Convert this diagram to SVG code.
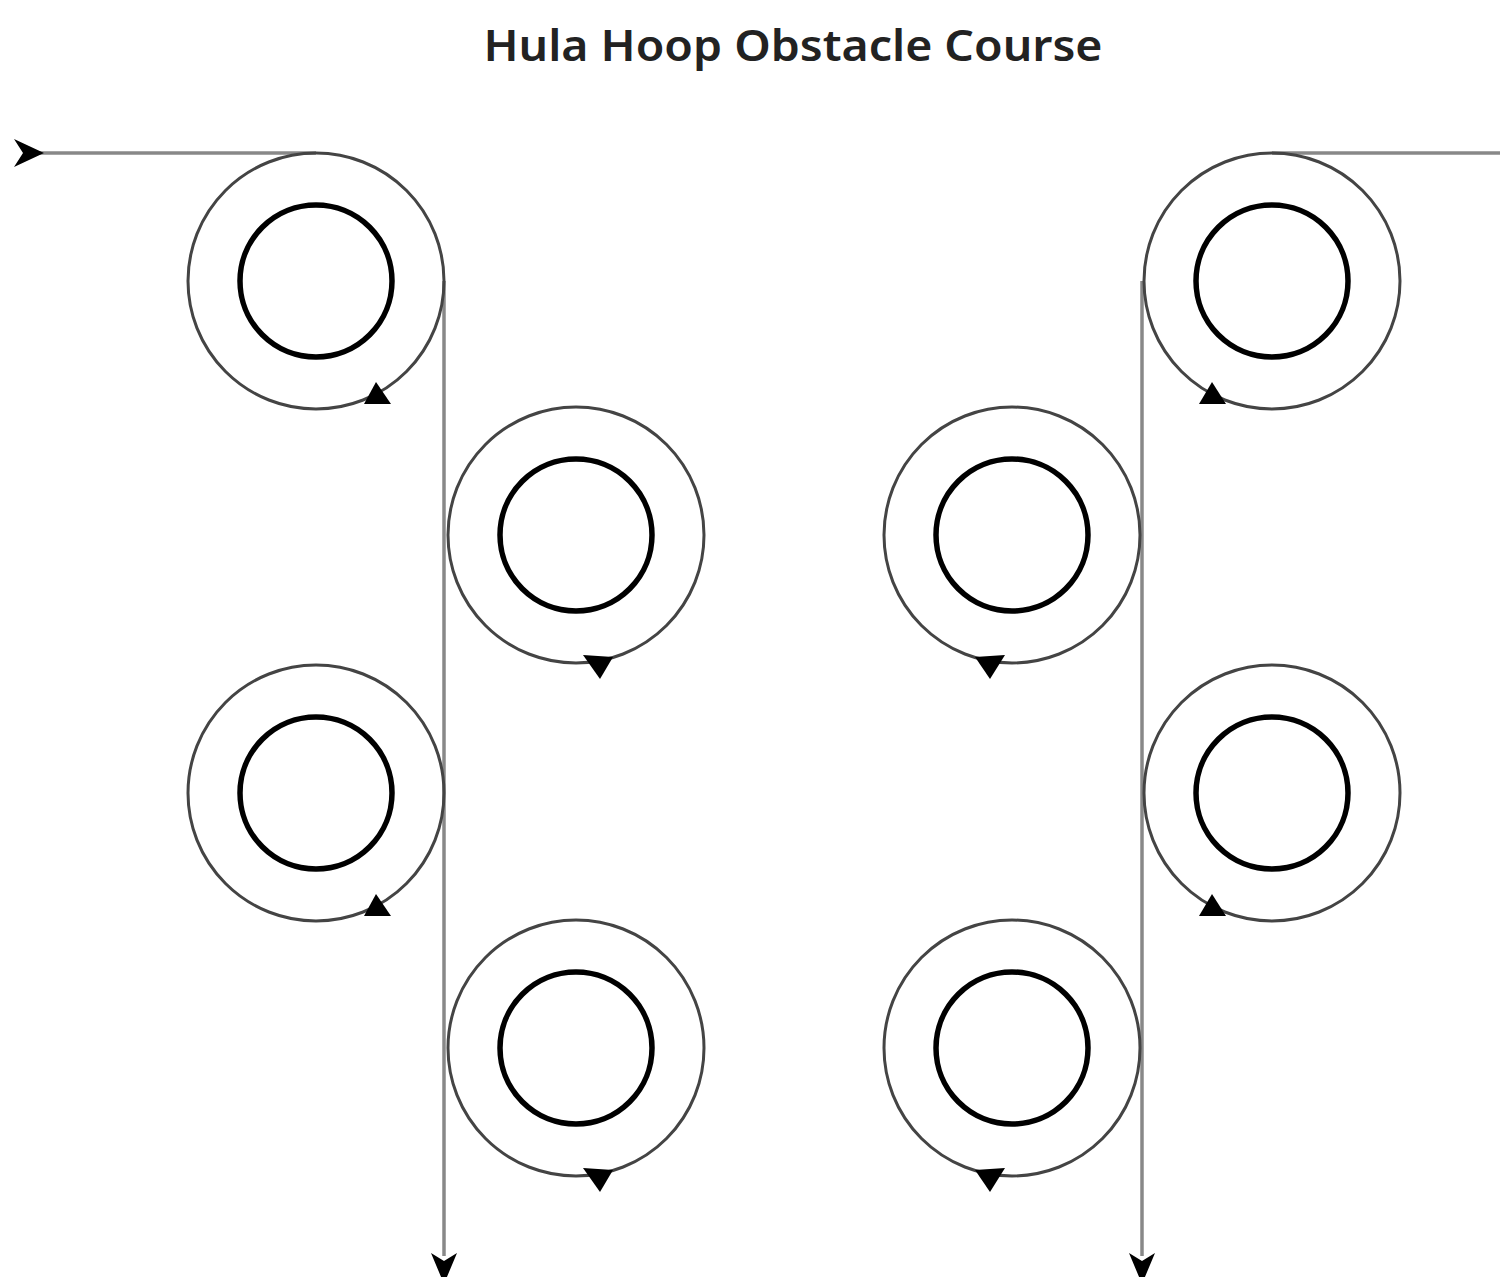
<svg xmlns="http://www.w3.org/2000/svg" width="1500" height="1277" viewBox="0 0 1500 1277">
<style>
.outer{fill:none;stroke:#444;stroke-width:3}
.inner{fill:none;stroke:#000;stroke-width:5.5}
.path{fill:none;stroke:#888;stroke-width:3.5}
.ah{fill:#000;stroke:none}
.title{font-family:"Noto Sans","Open Sans",sans-serif;font-size:44px;font-weight:600;fill:#222;text-anchor:middle}
</style>
<rect width="1500" height="1277" fill="#fff"/>
<text class="title" x="793" y="61" textLength="619" lengthAdjust="spacingAndGlyphs">Hula Hoop Obstacle Course</text>
<g id="connectors">
<line class="path" x1="40" y1="153" x2="316" y2="153"/>
<line class="path" x1="1272" y1="153" x2="1500" y2="153"/>
<line class="path" x1="444" y1="281" x2="444" y2="1256"/>
<line class="path" x1="1142" y1="281" x2="1142" y2="1256"/>
<path class="ah" d="M44,153 L14,139 L23,153 L14,167 Z"/>
<path class="ah" d="M444,1284 L431,1253 L444,1261 L457,1253 Z"/>
<path class="ah" d="M1142,1284 L1129,1253 L1142,1261 L1155,1253 Z"/>
</g>
<g id="hoop-l1"><circle class="outer" cx="316" cy="281" r="128"/><circle class="inner" cx="316" cy="281" r="76"/><path class="ah" d="M364,404 L376,382 L391,404 Z"/></g>
<g id="hoop-l2"><circle class="outer" cx="576" cy="535" r="128"/><circle class="inner" cx="576" cy="535" r="76"/><path class="ah" d="M583,655 L613,657 L600,679 Z"/></g>
<g id="hoop-l3"><circle class="outer" cx="316" cy="793" r="128"/><circle class="inner" cx="316" cy="793" r="76"/><path class="ah" d="M364,916 L376,894 L391,916 Z"/></g>
<g id="hoop-l4"><circle class="outer" cx="576" cy="1048" r="128"/><circle class="inner" cx="576" cy="1048" r="76"/><path class="ah" d="M583,1168 L613,1170 L600,1192 Z"/></g>
<g id="hoop-r1"><circle class="outer" cx="1272" cy="281" r="128"/><circle class="inner" cx="1272" cy="281" r="76"/><path class="ah" d="M1199,404 L1212,382 L1226,404 Z"/></g>
<g id="hoop-r2"><circle class="outer" cx="1012" cy="535" r="128"/><circle class="inner" cx="1012" cy="535" r="76"/><path class="ah" d="M975,657 L1005,655 L990,679 Z"/></g>
<g id="hoop-r3"><circle class="outer" cx="1272" cy="793" r="128"/><circle class="inner" cx="1272" cy="793" r="76"/><path class="ah" d="M1199,916 L1212,894 L1226,916 Z"/></g>
<g id="hoop-r4"><circle class="outer" cx="1012" cy="1048" r="128"/><circle class="inner" cx="1012" cy="1048" r="76"/><path class="ah" d="M975,1170 L1005,1168 L990,1192 Z"/></g>
</svg>
